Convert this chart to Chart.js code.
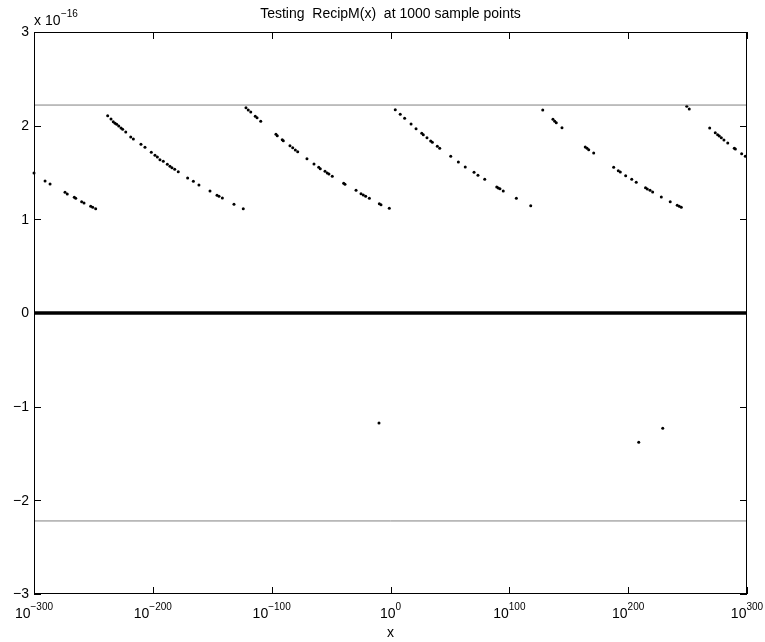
<!DOCTYPE html>
<html>
<head>
<meta charset="utf-8">
<script src="https://cdn.jsdelivr.net/npm/chart.js@4.4.1/dist/chart.umd.min.js"></script>
<style>
  html, body { margin: 0; padding: 0; background: #fff; }
  canvas { display: block; }
</style>
</head>
<body>
<canvas id="recipChart" width="765" height="642"></canvas>
<script>
// =========================================
// DATA  (x as log10(x), error in units of 1e-16)
// =========================================

const upperExp = [
  -300, -290.7, -286.5, -273.9, -272.0, -266.1, -264.9, -259.9, -257.9, -252.3, -250.6, -248.1,
  -238.0, -235.2, -233.3, -231.8, -230.4, -228.7, -226.8, -225.4, -222.8, -218.6, -216.4, -210.0,
  -206.6, -201.3, -198.2, -196.2, -194.0, -191.2, -187.8, -185.6, -183.9, -181.6, -178.6, -170.7,
  -165.9, -161.2, -151.9, -146.0, -144.3, -141.5, -131.7, -123.9,
  -121.6, -119.7, -117.6, -113.8, -112.3, -109.2, -96.4, -95.3, -91.1, -90.2, -84.6, -82.3,
  -80.1, -78.1, -70.3, -64.4, -60.4, -59.1, -55.1, -53.2, -51.8, -49.0, -39.4, -38.3,
  -29.0, -24.8, -22.9, -20.9, -17.8, -9.4, -8.0, -1.0,
  4.0, 8.2, 11.9, 17.3, 21.5, 26.3, 27.6, 30.7, 33.8, 35.2, 39.4, 41.4,
  50.7, 57.1, 62.9, 70.3, 73.6, 79.3, 89.4, 90.7, 92.1, 94.9, 105.9, 118.0,
  128.1, 136.7, 138.2, 139.5, 144.3, 163.9, 165.4, 166.8, 171.0, 187.8, 191.7, 193.4,
  197.9, 203.0, 206.8, 214.6, 216.1, 218.4, 220.6, 227.9, 235.4, 241.3, 243.0, 244.7,
  249.3, 251.4,
  268.6, 273.3, 275.3, 276.7, 278.4, 280.6, 283.8, 289.3, 290.2, 295.5, 298.6
];

const upperErr = [
  1.495, 1.409, 1.377, 1.289, 1.270, 1.235, 1.225, 1.188, 1.174, 1.139, 1.128, 1.114,
  2.106, 2.071, 2.042, 2.025, 2.015, 1.996, 1.975, 1.961, 1.932, 1.879, 1.858, 1.801,
  1.769, 1.716, 1.684, 1.665, 1.637, 1.620, 1.588, 1.566, 1.551, 1.534, 1.509, 1.441,
  1.406, 1.367, 1.302, 1.257, 1.246, 1.228, 1.160, 1.113,
  2.192, 2.167, 2.146, 2.100, 2.085, 2.047, 1.908, 1.893, 1.850, 1.840, 1.786, 1.765,
  1.740, 1.722, 1.647, 1.591, 1.555, 1.541, 1.513, 1.495, 1.484, 1.459, 1.385, 1.374,
  1.310, 1.274, 1.260, 1.246, 1.225, 1.167, 1.156, 1.118,
  2.170, 2.121, 2.079, 2.018, 1.968, 1.918, 1.904, 1.872, 1.836, 1.822, 1.780, 1.758,
  1.673, 1.612, 1.559, 1.502, 1.470, 1.427, 1.345, 1.335, 1.327, 1.302, 1.225, 1.146,
  2.167, 2.068, 2.047, 2.032, 1.978, 1.772, 1.758, 1.743, 1.708, 1.555, 1.519, 1.505,
  1.466, 1.427, 1.395, 1.338, 1.324, 1.310, 1.292, 1.238, 1.188, 1.150, 1.139, 1.128,
  2.207, 2.178,
  1.975, 1.925, 1.904, 1.890, 1.872, 1.847, 1.815, 1.758, 1.751, 1.701, 1.673
];

const lowerExp = [-9.7, 208.9, 229.1];
const lowerErr = [-1.174, -1.381, -1.231];

// the band of exact results (error 0) across the whole range
const zeroExp = [-300, 300];
const zeroErr = [0, 0];

// +/- eps reference lines
const epsErr = 2.22;

const xTickExp = [-300, -200, -100, 0, 100, 200, 300];
const yTickVals = [-3, -2, -1, 0, 1, 2, 3];


// =========================================
// MATLAB STYLE AXES
// =========================================

const FONT = '"Liberation Sans", Arial, Helvetica, sans-serif';
const MINUS = "\u2212";

function toPoints(xs, ys) {
  return xs.map((x, i) => ({ x: x, y: ys[i] }));
}

const matlabAxes = {
  id: "matlabAxes",

  afterDraw(chart) {
    const ctx = chart.ctx;
    const area = chart.chartArea;
    const xs = chart.scales.x;
    const ys = chart.scales.y;
    const tickLen = 7;

    ctx.save();
    ctx.strokeStyle = "#000";
    ctx.lineWidth = 1;

    // box
    ctx.strokeRect(
      Math.round(area.left) + 0.5,
      Math.round(area.top) + 0.5,
      Math.round(area.right - area.left) - 1,
      Math.round(area.bottom - area.top) - 1
    );

    // ticks pointing inwards on all four sides
    ctx.beginPath();
    xTickExp.forEach(v => {
      const px = Math.round(xs.getPixelForValue(v)) + 0.5;
      ctx.moveTo(px, area.bottom);
      ctx.lineTo(px, area.bottom - tickLen);
      ctx.moveTo(px, area.top);
      ctx.lineTo(px, area.top + tickLen);
    });
    yTickVals.forEach(v => {
      const py = Math.round(ys.getPixelForValue(v)) + 0.5;
      ctx.moveTo(area.left, py);
      ctx.lineTo(area.left + tickLen, py);
      ctx.moveTo(area.right, py);
      ctx.lineTo(area.right - tickLen, py);
    });
    ctx.stroke();

    ctx.fillStyle = "#000";

    // x tick labels: 10^k
    const baseFont = "14px " + FONT;
    const supFont = "10px " + FONT;
    ctx.textBaseline = "alphabetic";
    ctx.textAlign = "left";
    xTickExp.forEach(v => {
      const px = xs.getPixelForValue(v);
      const expText = (v < 0 ? MINUS : "") + Math.abs(v);
      ctx.font = baseFont;
      const wb = ctx.measureText("10").width;
      ctx.font = supFont;
      const we = ctx.measureText(expText).width;
      const x0 = px - (wb + we) / 2;
      ctx.font = baseFont;
      ctx.fillText("10", x0, area.bottom + 24);
      ctx.font = supFont;
      ctx.fillText(expText, x0 + wb, area.bottom + 15.5);
    });

    // y tick labels
    ctx.font = baseFont;
    ctx.textAlign = "right";
    ctx.textBaseline = "middle";
    yTickVals.forEach(v => {
      const py = ys.getPixelForValue(v);
      const txt = (v < 0 ? MINUS : "") + Math.abs(v);
      ctx.fillText(txt, area.left - 5, py + 0.5);
    });

    // exponent label  x 10^-16
    ctx.textAlign = "left";
    ctx.textBaseline = "alphabetic";
    ctx.font = baseFont;
    const lead = "x 10";
    ctx.fillText(lead, area.left, area.top - 7);
    const wl = ctx.measureText(lead).width;
    ctx.font = supFont;
    ctx.fillText(MINUS + "16", area.left + wl + 0.5, area.top - 15.3);

    // title and x label
    const cx = (area.left + area.right) / 2;
    ctx.font = baseFont;
    ctx.textAlign = "center";
    ctx.fillText("Testing  RecipM(x)  at 1000 sample points", cx, area.top - 14);
    ctx.fillText("x", cx, area.bottom + 43);

    ctx.restore();
  }
};


// =========================================
// CHART
// =========================================

const recipCtx =
document.getElementById("recipChart");

new Chart(recipCtx, {

  type: "scatter",

  data: {

    datasets: [
      {
        label: "eps",
        data: toPoints(zeroExp, [epsErr, epsErr]),
        showLine: true,
        borderColor: "#808080",
        borderWidth: 1,
        pointRadius: 0
      },
      {
        label: "-eps",
        data: toPoints(zeroExp, [-epsErr, -epsErr]),
        showLine: true,
        borderColor: "#808080",
        borderWidth: 1,
        pointRadius: 0
      },
      {
        label: "exact",
        data: toPoints(zeroExp, zeroErr),
        showLine: true,
        borderColor: "#000",
        borderWidth: 3.5,
        pointRadius: 0
      },
      {
        label: "error > 0",
        data: toPoints(upperExp, upperErr),
        backgroundColor: "#000",
        borderWidth: 0,
        pointRadius: 1.5,
        clip: false
      },
      {
        label: "error < 0",
        data: toPoints(lowerExp, lowerErr),
        backgroundColor: "#000",
        borderWidth: 0,
        pointRadius: 1.5,
        clip: false
      }
    ]
  },

  options: {

    responsive: false,

    animation: false,

    layout: {
      padding: { left: 34, right: 18, top: 32, bottom: 48 }
    },

    plugins: {
      legend: { display: false },
      title: { display: false },
      tooltip: { enabled: false }
    },

    scales: {
      x: {
        type: "linear",
        display: false,
        min: -300,
        max: 300
      },
      y: {
        type: "linear",
        display: false,
        min: -3,
        max: 3
      }
    }
  },

  plugins: [matlabAxes]
});
</script>
</body>
</html>
